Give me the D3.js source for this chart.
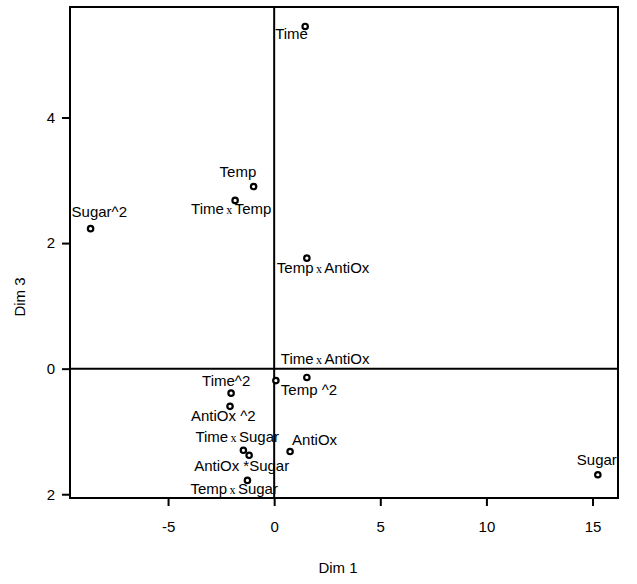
<!DOCTYPE html>
<html>
<head>
<meta charset="utf-8">
<script src="https://cdn.jsdelivr.net/npm/d3@7"></script>
<style>
  body { margin: 0; background: #fff; }
  text { font-family: Arial, "Liberation Sans", sans-serif; fill: #000; }
</style>
</head>
<body>
<div id="chart"></div>
<script>
// ---------------------------------- data ----------------------------------
const terms = ["Time", "Temp", "Time x Temp", "Sugar^2", "Temp x AntiOx",
               "Time x AntiOx", "Temp ^2", "AntiOx", "Sugar", "Time^2",
               "AntiOx ^2", "Time x Sugar", "AntiOx *Sugar", "Temp x Sugar"];
const dim1 = [1.46, -0.97, -1.84, -8.65, 1.54, 0.08, 1.54, 0.75, 15.25, -2.03, -2.08, -1.45, -1.18, -1.26];
const dim3 = [5.45, 2.90, 2.68, 2.23, 1.76, -0.19, -0.14, -1.32, -1.69, -0.39, -0.60, -1.30, -1.38, -1.78];

// label offsets from the point, in px (text left edge, baseline)
const labelDx = [-30, -34, -44, -19, -30, 5, -26, 2, -21, -29, -39, -48, -55, -57];
const labelDy = [13, -10, 14, -12, 15, -17, 18, -7, -10, -7, 15, -8, 16, 14];

const xTicks = [-5, 0, 5, 10, 15];
const yTicks = [-2, 0, 2, 4];
const yTickLabels = ["2", "0", "2", "4"];

// --------------------------------- layout ---------------------------------
const W = 637, H = 584;
const plot = {left: 70, top: 7, right: 618, bottom: 498};

const svg = d3.select("#chart")
  .append("svg")
    .attr("width", W)
    .attr("height", H);

const x = d3.scaleLinear().domain([-9.62, 16.2]).range([plot.left, plot.right]);
const y = d3.scaleLinear().domain([-2.06, 5.76]).range([plot.bottom, plot.top]);

// frame
svg.append("rect")
   .attr("x", plot.left).attr("y", plot.top)
   .attr("width", plot.right - plot.left)
   .attr("height", plot.bottom - plot.top)
   .attr("fill", "none").attr("stroke", "#000").attr("stroke-width", 2);

// reference lines at 0
svg.append("line")
   .attr("x1", x(0)).attr("x2", x(0))
   .attr("y1", plot.top).attr("y2", plot.bottom)
   .attr("stroke", "#000").attr("stroke-width", 2);
svg.append("line")
   .attr("x1", plot.left).attr("x2", plot.right)
   .attr("y1", y(0)).attr("y2", y(0))
   .attr("stroke", "#000").attr("stroke-width", 2);

// axes
const xAxis = svg.append("g")
   .attr("transform", "translate(0," + plot.bottom + ")")
   .call(d3.axisBottom(x).tickValues(xTicks).tickSize(8).tickPadding(15).tickFormat(d => String(d)));
const yAxis = svg.append("g")
   .attr("transform", "translate(" + plot.left + ",0)")
   .call(d3.axisLeft(y).tickValues(yTicks).tickSize(8).tickPadding(7)
         .tickFormat((d, i) => yTickLabels[i]));

[xAxis, yAxis].forEach(g => {
  g.select(".domain").remove();
  g.selectAll(".tick line").attr("stroke", "#000").attr("stroke-width", 2);
  g.selectAll(".tick text").style("font-size", "15px")
    .style("font-family", "Arial, 'Liberation Sans', sans-serif");
});

// axis titles
svg.append("text")
   .attr("x", 338).attr("y", 573)
   .attr("text-anchor", "middle")
   .style("font-size", "15px")
   .text("Dim 1");
svg.append("text")
   .attr("transform", "translate(25,297) rotate(-90)")
   .attr("text-anchor", "middle")
   .style("font-size", "15px")
   .text("Dim 3");

// --------------------------------- points ---------------------------------
const data = terms.map((t, i) => ({term: t, d1: dim1[i], d3: dim3[i], dx: labelDx[i], dy: labelDy[i]}));

svg.selectAll("circle.pt")
  .data(data)
  .enter()
  .append("circle")
    .attr("class", "pt")
    .attr("cx", d => x(d.d1))
    .attr("cy", d => y(d.d3))
    .attr("r", 2.7)
    .attr("fill", "#fff")
    .attr("stroke", "#000")
    .attr("stroke-width", 2.2);

// labels, the " x " is drawn as a small serif x
const labels = svg.selectAll("text.lbl")
  .data(data)
  .enter()
  .append("text")
    .attr("class", "lbl")
    .attr("x", d => x(d.d1) + d.dx)
    .attr("y", d => y(d.d3) + d.dy)
    .style("font-size", "15px");

labels.each(function(d) {
  const parts = d.term.split(" x ");
  const t = d3.select(this);
  parts.forEach((p, k) => {
    if (k > 0) {
      t.append("tspan")
        .style("font-family", "'Liberation Serif', 'DejaVu Serif', serif")
        .style("font-size", "12px")
        .text("\u2009x\u2009");
    }
    t.append("tspan").text(p);
  });
});
</script>
</body>
</html>
